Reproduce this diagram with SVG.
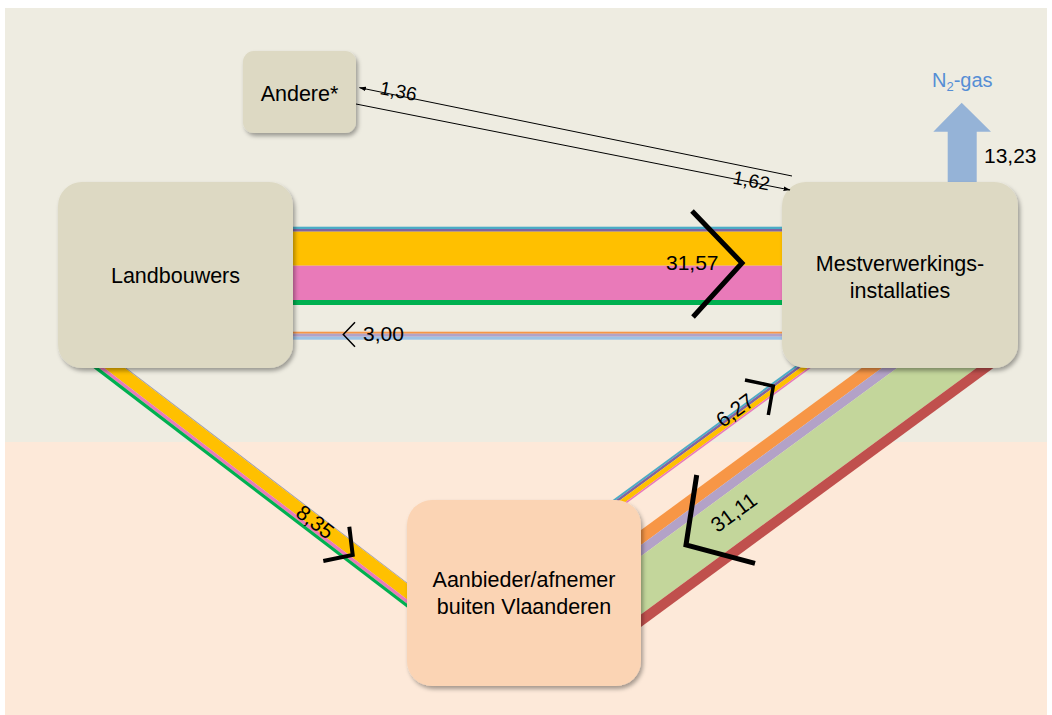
<svg xmlns="http://www.w3.org/2000/svg" width="1052" height="715" viewBox="0 0 1052 715">
<defs>
<style>
.lbl{font-family:"Liberation Sans",Arial,sans-serif;font-size:21.5px;fill:#000}
.num{font-family:"Liberation Sans",Arial,sans-serif;font-size:21px;fill:#000}
.sm{font-family:"Liberation Sans",Arial,sans-serif;font-size:19px;fill:#000}
.tan{fill:#DDD9C3}
.peach{fill:#FBD4B4}
.chev{fill:none;stroke:#000;stroke-linejoin:miter;stroke-linecap:butt}
.thin{fill:none;stroke:#000;stroke-width:1}
</style>
<filter id="sh" x="-10%" y="-10%" width="130%" height="130%">
<feDropShadow dx="2" dy="3" stdDeviation="2.2" flood-color="#000" flood-opacity="0.35"/>
</filter>
<marker id="ah" viewBox="0 0 12 10" refX="11" refY="5" markerWidth="7" markerHeight="6" orient="auto-start-reverse">
<path d="M0,1 L12,5 L0,9z" fill="#000"/>
</marker>
<clipPath id="clipR"><rect x="0" y="366" width="1052" height="349"/></clipPath>
</defs>

<rect x="5" y="8" width="1042" height="434" fill="#EEECE1"/>
<rect x="5" y="442" width="1042" height="273" fill="#FDE9D9"/>

<g id="connectors">
  <!-- Landbouwers -> Mestverwerkings -->
  <g id="band-31-57">
    <rect x="280" y="226.7" width="520" height="2.3" fill="#4BACC6"/>
    <rect x="280" y="229" width="520" height="2.7" fill="#8064A2"/>
    <rect x="280" y="231.7" width="520" height="34" fill="#FFC000"/>
    <rect x="280" y="265.7" width="520" height="34.3" fill="#E97AB9"/>
    <rect x="280" y="300" width="520" height="5" fill="#00B050"/>
  </g>
  <!-- Mestverwerkings -> Landbouwers -->
  <g id="band-3-00">
    <rect x="280" y="331.7" width="520" height="2" fill="#F79646"/>
    <rect x="280" y="333.7" width="520" height="3" fill="#B3A2C7"/>
    <rect x="280" y="336.7" width="520" height="3" fill="#9DC3E6"/>
  </g>
  <!-- Landbouwers -> Aanbieder -->
  <g id="band-8-35" transform="translate(110,368) rotate(37.4)">
    <rect x="-40" y="-10" width="460" height="0.9" fill="#9A9AB0"/>
    <rect x="-40" y="-9.1" width="460" height="12.5" fill="#FFC000"/>
    <rect x="-40" y="3.4" width="460" height="3.4" fill="#E97AB9"/>
    <rect x="-40" y="6.8" width="460" height="3.2" fill="#00B050"/>
  </g>
  <!-- Aanbieder -> Mestverwerkings -->
  <g clip-path="url(#clipR)">
    <g id="band-6-27" transform="translate(799,370) rotate(-36.3)">
      <rect x="-250" y="-5.5" width="280" height="2" fill="#4BACC6"/>
      <rect x="-250" y="-3.5" width="280" height="2.5" fill="#8064A2"/>
      <rect x="-250" y="-1" width="280" height="4.7" fill="#FFC000"/>
      <rect x="-250" y="3.7" width="280" height="1.6" fill="#E97AB9"/>
    </g>
  </g>
  <!-- Mestverwerkings -> Aanbieder -->
  <g clip-path="url(#clipR)">
    <g id="band-31-11" transform="translate(640,579.2) rotate(-36.3)">
      <rect x="-30" y="-39" width="480" height="12" fill="#F79646"/>
      <rect x="-30" y="-27" width="480" height="9" fill="#B3A2C7"/>
      <rect x="-30" y="-18" width="480" height="47" fill="#C3D69B"/>
      <rect x="-30" y="29" width="480" height="10" fill="#C0504D"/>
    </g>
  </g>
  <!-- N2 gas arrow -->
  <polygon id="arrow-n2" points="961.7,102.7 991,131.7 976.7,131.7 976.7,186 947.7,186 947.7,131.7 933.3,131.7" fill="#95B3D7"/>
</g>

<g id="node-andere">
  <rect class="tan" x="243" y="51" width="113" height="82" rx="11" filter="url(#sh)"/>
  <text class="lbl" x="299.5" y="101" text-anchor="middle">Andere*</text>
</g>
<g id="node-landbouwers">
  <rect class="tan" x="58" y="182" width="235" height="186" rx="24" filter="url(#sh)"/>
  <text class="lbl" x="175.5" y="283" text-anchor="middle">Landbouwers</text>
</g>
<g id="node-mestverwerking">
  <rect class="tan" x="782" y="182" width="236" height="186" rx="24" filter="url(#sh)"/>
  <text class="lbl" x="900" y="271" text-anchor="middle">Mestverwerkings-</text>
  <text class="lbl" x="900" y="298" text-anchor="middle">installaties</text>
</g>
<g id="node-aanbieder">
  <rect class="peach" x="407" y="500" width="234" height="186" rx="25" filter="url(#sh)"/>
  <text class="lbl" x="524" y="587" text-anchor="middle">Aanbieder/afnemer</text>
  <text class="lbl" x="524" y="614" text-anchor="middle">buiten Vlaanderen</text>
</g>

<g id="flow-labels">
  <!-- Andere arrows -->
  <line class="thin" x1="792" y1="176" x2="359.5" y2="87.7" marker-end="url(#ah)"/>
  <line class="thin" x1="356" y1="104" x2="790" y2="190" marker-end="url(#ah)"/>
  <text class="sm" transform="translate(379,94) rotate(11)">1,36</text>
  <text class="sm" transform="translate(732,183.5) rotate(11)">1,62</text>

  <!-- 31,57 -->
  <polyline class="chev" stroke-width="5" points="692,211 742,263 693,317"/>
  <text class="num" x="666" y="270">31,57</text>

  <!-- 3,00 -->
  <polyline class="chev" stroke-width="1.5" points="355,322.3 343.3,334.5 355,346.7"/>
  <text class="num" x="363" y="340.5">3,00</text>

  <!-- 8,35 -->
  <polyline class="chev" stroke-width="4" points="323.3,561 352.7,555 349.3,526.7"/>
  <text class="num" transform="translate(315,522) rotate(37.4)" text-anchor="middle" y="7">8,35</text>

  <!-- 6,27 -->
  <polyline class="chev" stroke-width="3.5" points="745,380 773.3,386 768.3,415"/>
  <text class="num" transform="translate(735,410.5) rotate(-36.3)" text-anchor="middle" y="7">6,27</text>

  <!-- 31,11 -->
  <polyline class="chev" stroke-width="5" points="696.7,475 686,545 755,563.3"/>
  <text class="num" transform="translate(734,512.5) rotate(-36.3)" text-anchor="middle" y="7">31,11</text>

  <!-- N2 -->
  <text x="932" y="87" font-family="Liberation Sans, Arial, sans-serif" font-size="20" fill="#558ED5">N<tspan font-size="13" dy="4">2</tspan><tspan dy="-4">-gas</tspan></text>
  <text class="num" x="984" y="163">13,23</text>
</g>
</svg>
